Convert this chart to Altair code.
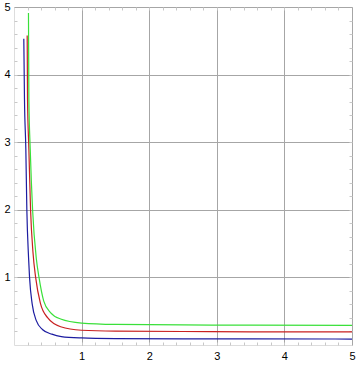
import altair as alt
import pandas as pd

blue_x = [0.145, 0.155, 0.175, 0.19, 0.215, 0.23, 0.27, 0.33, 0.42, 0.56, 0.7, 1.0, 1.5, 2.5, 3.5, 5.0]
blue_y = [4.53, 3.64, 2.9, 2.0, 1.3, 1.0, 0.6, 0.36, 0.23, 0.16, 0.125, 0.105, 0.095, 0.09, 0.09, 0.088]

red_x = [0.195, 0.2, 0.22, 0.245, 0.28, 0.32, 0.39, 0.5, 0.69, 1.0, 1.5, 2.5, 3.5, 5.0]
red_y = [4.58, 3.64, 2.9, 2.0, 1.38, 1.0, 0.62, 0.40, 0.27, 0.218, 0.205, 0.2, 0.195, 0.195]

green_x = [0.214, 0.22, 0.24, 0.275, 0.33, 0.37, 0.44, 0.54, 0.69, 1.0, 1.5, 2.5, 3.5, 5.0]
green_y = [4.91, 3.64, 2.9, 2.0, 1.28, 1.0, 0.65, 0.48, 0.385, 0.325, 0.305, 0.297, 0.293, 0.29]

series_names = ["blue", "red", "green"]
series_colors = ["#1c1ca0", "#c82020", "#3ae03a"]
tick_values = [1, 2, 3, 4, 5]
minor_values = [0.2, 0.4, 0.6, 0.8, 1.0, 1.2, 1.4, 1.6, 1.8, 2.0, 2.2, 2.4, 2.6, 2.8, 3.0,
                3.2, 3.4, 3.6, 3.8, 4.0, 4.2, 4.4, 4.6, 4.8]

rows = []
for name, xs, ys in [("blue", blue_x, blue_y), ("red", red_x, red_y), ("green", green_x, green_y)]:
    for i, (xv, yv) in enumerate(zip(xs, ys)):
        rows.append({"series": name, "x": xv, "y": yv, "order": i})
df = pd.DataFrame(rows)

xscale = alt.Scale(domain=[0, 5], nice=False, zero=False)
yscale = alt.Scale(domain=[0, 5], nice=False, zero=False)
cscale = alt.Scale(domain=series_names, range=series_colors)

axis_main = dict(
    values=tick_values,
    grid=True,
    gridColor="#a6a6a6",
    gridWidth=1,
    domain=False,
    ticks=False,
    labelFont="Liberation Sans",
    labelFontSize=11,
    labelColor="#000000",
    labelFlush=False,
    labelOverlap=False,
    title=None,
)

axis_minor = dict(
    values=minor_values,
    grid=False,
    domain=False,
    ticks=True,
    tickSize=3,
    tickColor="#c8c8c8",
    tickWidth=1,
    labels=False,
    offset=-3,
    title=None,
)

lines = alt.Chart(df).mark_line(strokeWidth=1.2, interpolate="monotone").encode(
    x=alt.X("x:Q", scale=xscale, axis=alt.Axis(orient="bottom", labelPadding=5, **axis_main)),
    y=alt.Y("y:Q", scale=yscale, axis=alt.Axis(orient="left", labelPadding=4, **axis_main)),
    color=alt.Color("series:N", scale=cscale, legend=None),
    detail="series:N",
    order="order:Q",
)

ticks_tr = alt.Chart(df).mark_line(opacity=0).encode(
    x=alt.X("x:Q", scale=xscale, axis=alt.Axis(orient="top", **axis_minor)),
    y=alt.Y("y:Q", scale=yscale, axis=alt.Axis(orient="right", **axis_minor)),
    detail="series:N",
)

ticks_bl = alt.Chart(df).mark_line(opacity=0).encode(
    x=alt.X("x:Q", scale=xscale, axis=alt.Axis(orient="bottom", **axis_minor)),
    y=alt.Y("y:Q", scale=yscale, axis=alt.Axis(orient="left", **axis_minor)),
    detail="series:N",
)

chart = alt.layer(ticks_bl, ticks_tr, lines).resolve_axis(
    x="independent", y="independent"
).properties(
    width=338,
    height=338,
    autosize=alt.AutoSizeParams(type="none"),
    padding={"left": 14, "top": 7, "right": 8, "bottom": 21},
).configure_view(
    stroke="#9a9a9a",
    strokeWidth=1.2,
).configure(background="white")

chart.save("out.html", embed_options={"renderer": "svg", "actions": False})
